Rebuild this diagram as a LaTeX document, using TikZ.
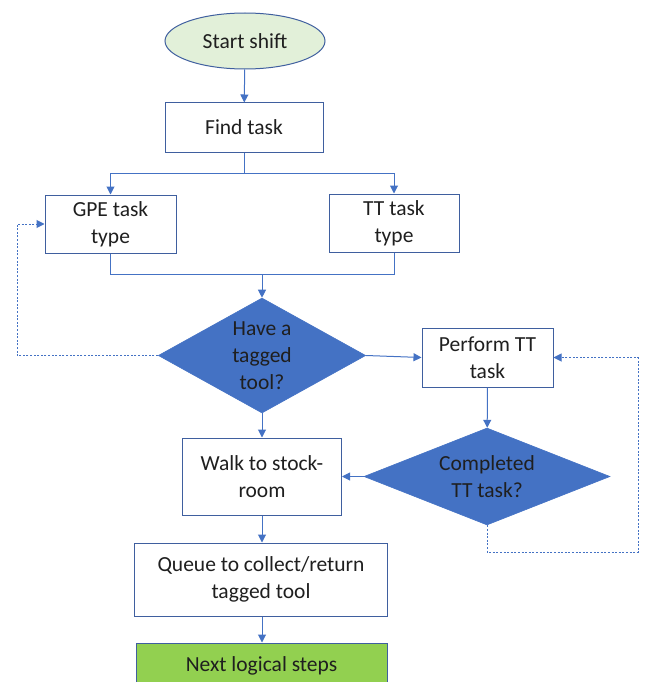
\documentclass[tikz,border=0pt]{standalone}
\usepackage{fontspec}
\setmainfont{Carlito}
\usetikzlibrary{shapes.geometric,arrows.meta}
\definecolor{lineblue}{HTML}{4472C4}
\definecolor{edgeblue}{HTML}{3F5F9F}
\definecolor{startgreen}{HTML}{E2F0D9}
\definecolor{nextgreen}{HTML}{92D050}
\definecolor{inktext}{HTML}{1F1F1F}
\begin{document}
\begin{tikzpicture}[x=1pt,y=-1pt,
	every node/.style={font=\fontsize{21.5}{27}\selectfont,text=inktext,align=center,inner sep=2pt},
	box/.style={draw=edgeblue,fill=white,line width=1pt},
	startnode/.style={ellipse,draw=edgeblue,fill=startgreen,line width=1pt,minimum width=160,minimum height=56},
	nextnode/.style={box,fill=nextgreen},
	decision/.style={diamond,fill=lineblue,draw=lineblue,line width=0.6pt,aspect=2},
	flow/.style={draw=lineblue,line width=1pt,-{Triangle[length=8pt,width=8pt]}},
	link/.style={draw=lineblue,line width=1pt},
	loopback/.style={flow,dash pattern=on 2pt off 1.6pt}]
	\useasboundingbox (0,0) rectangle (646,682);
	\node[startnode] (start) at (245,41) {Start shift};
	\node[box,minimum width=158,minimum height=49] (find) at (244,127.5) {Find task};
	\node[box,minimum width=131,minimum height=58] (gpe) at (110.5,224) {GPE task\\type};
	\node[box,minimum width=130,minimum height=58] (tt) at (394,223) {TT task\\type};
	\node[decision,minimum width=200,minimum height=115] (have) at (262,355.5) {Have a\\tagged\\tool?};
	\node[box,minimum width=131,minimum height=59] (perform) at (487.5,357.5) {Perform TT\\task};
	\node[decision,minimum width=246,minimum height=97] (done) at (487,476.5) {Completed\\TT task?};
	\node[box,minimum width=159,minimum height=77] (walk) at (262,476.5) {Walk to stock-\\room};
	\node[box,minimum width=253,minimum height=73] (queue) at (261,579.5) {Queue to collect/return\\tagged tool};
	\node[nextnode,minimum width=251,minimum height=46] (next) at (261.5,666) {Next logical steps};
	\coordinate (split) at (244,173);
	\coordinate (merge) at (262,274);
	\coordinate (loopL) at (17,355.5);
	\coordinate (loopR) at (638,552);
	\draw[flow] (start) -- (find);
	\draw[link] (find) -- (split);
	\draw[flow] (split) -| (gpe);
	\draw[flow] (split) -| (tt);
	\draw[link] (gpe) |- (merge);
	\draw[link] (tt) |- (merge);
	\draw[flow] (merge) -- (have);
	\draw[loopback] (have.west) -- (loopL) |- (gpe.west);
	\draw[flow] (have.east) -- (perform.west);
	\draw[flow] (perform) -- (done);
	\draw[flow] (done.west) -- (walk.east);
	\draw[loopback] (done.south) |- (loopR) |- (perform.east);
	\draw[flow] (have) -- (walk);
	\draw[flow] (walk.south) -- (walk.south |- queue.north);
	\draw[flow] (queue.south -| walk.south) -- (walk.south |- next.north);
\end{tikzpicture}
\end{document}
